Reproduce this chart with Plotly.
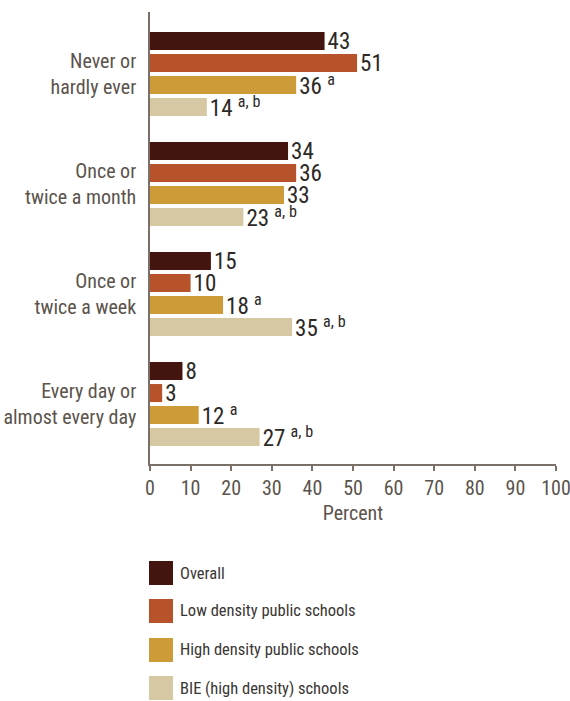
import plotly.graph_objects as go

categories = ["Never or<br>hardly ever", "Once or<br>twice a month", "Once or<br>twice a week", "Every day or<br>almost every day"]
series_names = ["Overall", "Low density public schools", "High density public schools", "BIE (high density) schools"]
overall = [43, 34, 15, 8]
low_density = [51, 36, 10, 3]
high_density = [36, 33, 18, 12]
bie = [14, 23, 35, 27]
notes_overall = ["", "", "", ""]
notes_low = ["", "", "", ""]
notes_high = ["a", "", "a", "a"]
notes_bie = ["a, b", "a, b", "a, b", "a, b"]
colors = ["#44150f", "#b7532a", "#cd9b38", "#d6c8a2"]
x_ticks = [0, 10, 20, 30, 40, 50, 60, 70, 80, 90, 100]

COND = "Roboto Condensed, Liberation Sans Narrow, sans-serif"
AXIS_COLOR = "#7a7068"
LABEL_COLOR = "#5b534c"

def label(v, n):
    return f"{v}" + (f" <sup>{n}</sup>" if n else "")

fig = go.Figure()
all_vals = [overall, low_density, high_density, bie]
all_notes = [notes_overall, notes_low, notes_high, notes_bie]
for name, vals, notes, col in zip(series_names, all_vals, all_notes, colors):
    fig.add_trace(go.Bar(
        y=categories, x=vals, orientation="h", name=name,
        marker=dict(color=col, line=dict(width=0)),
        text=[label(v, n) for v, n in zip(vals, notes)],
        textposition="outside", cliponaxis=False, constraintext="none",
        textfont=dict(family=COND, size=23, color="#2d2926"),
        showlegend=False,
    ))

# manual legend (large squares)
legend_y = [-0.2412, -0.3252, -0.4115, -0.4956]
for name, col, ly in zip(series_names, colors, legend_y):
    fig.add_shape(type="rect", xref="paper", yref="paper",
                  xsizemode="pixel", ysizemode="pixel",
                  xanchor=0, yanchor=ly, x0=-1, x1=23, y0=-12, y1=12,
                  fillcolor=col, line=dict(width=0))
    fig.add_annotation(xref="paper", yref="paper", x=0, y=ly, xshift=28,
                       text=name, showarrow=False, xanchor="left", yanchor="middle",
                       font=dict(family=COND, size=16.5, color="#3a3634"))

fig.update_layout(
    width=570, height=701,
    margin=dict(l=150, r=14, t=12, b=237),
    paper_bgcolor="white", plot_bgcolor="white",
    barmode="group", bargap=0.2, bargroupgap=0.18,
    font=dict(family=COND, size=20, color=LABEL_COLOR),
    xaxis=dict(range=[0, 100], tickvals=x_ticks, showgrid=False, zeroline=False,
               automargin=False, ticklabeloverflow="allow",
               showline=True, linecolor=AXIS_COLOR, linewidth=1.5,
               ticks="outside", ticklen=5, tickwidth=1.5, tickcolor=AXIS_COLOR,
               tickfont=dict(family=COND, size=20, color=LABEL_COLOR),
               title=dict(text="Percent", font=dict(family=COND, size=20, color=LABEL_COLOR), standoff=7)),
    yaxis=dict(type="category", range=[3.545, -0.564], showgrid=False, zeroline=False,
               automargin=False,
               showline=True, linecolor=AXIS_COLOR, linewidth=1.5, ticks="",
               ticklabelstandoff=8,
               tickfont=dict(family=COND, size=20, color=LABEL_COLOR)),
)

# remove the default page margin so the 570x701 figure fills the window exactly
fig.write_html("out.html", config={"displayModeBar": False},
               post_script="document.body.style.margin='0';")
